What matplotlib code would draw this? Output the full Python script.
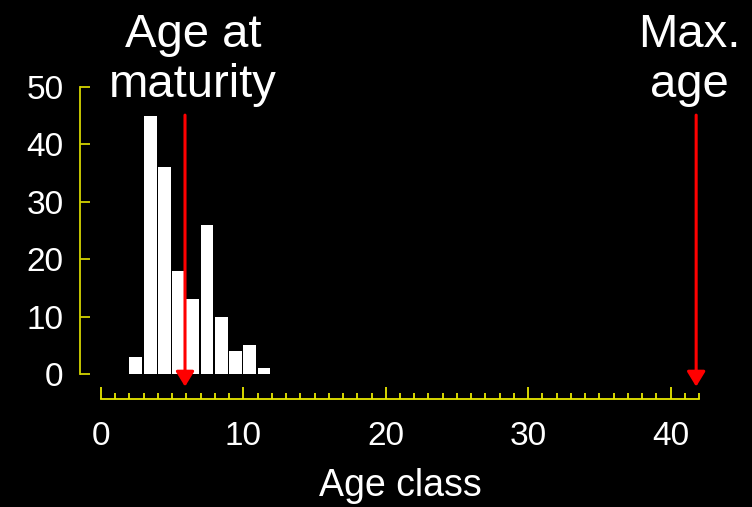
import numpy as np
import matplotlib
matplotlib.use('Agg')
import matplotlib.pyplot as plt
from matplotlib.ticker import MultipleLocator

plt.rcParams['font.family'] = ['Liberation Sans', 'DejaVu Sans']

ages = [2, 3, 4, 5, 6, 7, 8, 9, 10, 11]
counts = [3, 45, 36, 18, 13, 26, 10, 4, 5, 1]
age_at_maturity = 5.9
max_age = 41.8

fig = plt.figure(figsize=(7.52, 5.07), dpi=100, facecolor='black')
ax = fig.add_axes([101 / 752, 133 / 507, 598 / 752, 287 / 507])
ax.set_facecolor('black')

ax.bar(ages, counts, width=0.9, align='edge', color='white', edgecolor='none')

ax.set_xlim(0, 42)
ax.set_ylim(0, 50)

ylw = '#d4d400'
xlw = '#e8e800'
for s in ['top', 'right']:
    ax.spines[s].set_visible(False)
ax.spines['left'].set_position(('outward', 15.1))
ax.spines['left'].set_color(ylw)
ax.spines['left'].set_linewidth(1.3)
ax.spines['left'].set_bounds(0, 50)
ax.spines['bottom'].set_position(('outward', 18))
ax.spines['bottom'].set_color(xlw)
ax.spines['bottom'].set_linewidth(1.3)
ax.spines['bottom'].set_bounds(0, 42)

ax.set_yticks(np.arange(0, 51, 10))
ax.xaxis.set_major_locator(MultipleLocator(10))
ax.xaxis.set_minor_locator(MultipleLocator(1))
ax.set_xticks([0, 10, 20, 30, 40])
ax.tick_params(axis='y', direction='in', length=7.2, width=1.3, color=ylw,
               labelcolor='white', labelsize=24, pad=12)
ax.tick_params(axis='x', which='major', direction='in', length=8.6, width=1.3,
               color=xlw, labelcolor='white', labelsize=24, pad=16)
ax.tick_params(axis='x', which='minor', direction='in', length=4.3, width=1.3,
               color=xlw)

ax.set_xlabel('Age class', color='white', fontsize=27, labelpad=11)

for xa in [age_at_maturity, max_age]:
    ax.annotate('', xy=(xa, -2.2), xytext=(xa, 45.1), annotation_clip=False,
                arrowprops=dict(arrowstyle='-|>,head_length=0.9,head_width=0.55',
                                color='red', lw=2.2, shrinkA=0, shrinkB=0))

ax.text(6.45, 0.965, 'Age at\nmaturity', transform=ax.get_xaxis_transform(),
        color='white', fontsize=34, ha='center', va='baseline', linespacing=1.18)
ax.text(41.35, 0.965, 'Max.\nage', transform=ax.get_xaxis_transform(),
        color='white', fontsize=34, ha='center', va='baseline', linespacing=1.18)

fig.savefig('out.png', dpi=100, facecolor='black')
